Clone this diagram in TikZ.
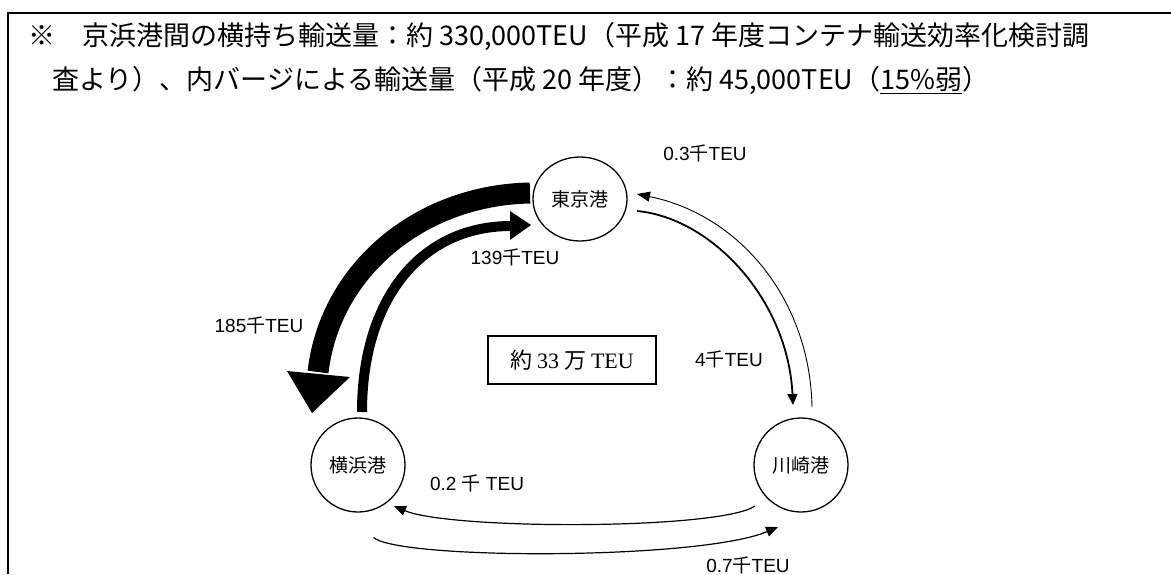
\documentclass[tikz,border=0pt]{standalone}
\usepackage{fontspec}
\setmainfont{Noto Sans CJK JP}
\newfontfamily\jp{Noto Sans CJK JP}
\newfontfamily\arialf{Liberation Sans}
\newfontfamily\seriff{Liberation Serif}
\usetikzlibrary{arrows.meta,shapes.geometric}
\newcommand\sen{{\jp 千}}
\begin{document}
\begin{tikzpicture}[x=1pt,y=-1pt,
  port/.style={draw, line width=1.3pt, circle, minimum size=94pt, inner sep=0pt, font=\jp\fontsize{19}{19}\selectfont},
  tport/.style={draw, line width=1.3pt, ellipse, minimum width=94pt, minimum height=84pt, inner sep=0pt, font=\jp\fontsize{19}{19}\selectfont},
  lbl/.style={inner sep=0pt, font=\arialf\fontsize{19}{19}\selectfont},
  hdr/.style={anchor=west, inner sep=0pt, font=\jp\fontsize{27}{27}\selectfont},
  thin/.style={line width=1.2pt, -{Triangle[length=12pt,width=10pt]}}]
\useasboundingbox (0,0) rectangle (1171,574);
% frame
\draw[line width=2pt] (8,574) -- (8,13) -- (1171,13);
% header
\node[hdr] (h1) at (28,37) {※　京浜港間の横持ち輸送量：約 330,000TEU（平成 17 年度コンテナ輸送効率化検討調};
\node[hdr] (h2) at (52,81) {査より）、内バージによる輸送量（平成 20 年度）：約 45,000TEU（\underline{15\%弱}）};
% ports
\node[tport] (tokyo) at (580,199) {東京港};
\node[port] (yoko) at (358,465) {横浜港};
\node[port] (kawa) at (801,465) {川崎港};
% total box
\node[draw, line width=1.5pt, minimum width=168pt, minimum height=48pt, inner sep=0pt, font=\fontsize{22}{22}\selectfont] (total) at (572,360) {{\jp 約} {\seriff 33} {\jp 万} {\seriff TEU}};
% big arrows
\coordinate (a185s) at (530,193);
\coordinate (a185e) at (318,372);
\draw[line width=21pt] (a185s) .. controls (420,195) and (330,270) .. (a185e);
\fill (287,371) -- (350,377) -- (312,413) -- cycle;
\coordinate (a139s) at (362,412);
\coordinate (a139e) at (511,226);
\draw[line width=10pt] (a139s) .. controls (362,300) and (420,226) .. (a139e);
\fill (510,211) -- (531,225) -- (510,240) -- cycle;
% thin arrows
\coordinate (t4s) at (637,211);
\coordinate (t4e) at (793,405);
\draw[line width=1.8pt, -{Triangle[length=11pt,width=10pt]}] (t4s) .. controls (712,218) and (788,300) .. (t4e);
\coordinate (t03s) at (812,407);
\coordinate (t03e) at (637,194);
\draw[line width=0.9pt, -{Triangle[length=13pt,width=10pt]}] (t03s) .. controls (810,300) and (740,215) .. (t03e);
\coordinate (b02s) at (755,506);
\coordinate (b02e) at (394,506);
\draw[thin] (b02s) .. controls (720,530) and (450,530) .. (b02e);
\coordinate (b07s) at (373.5,537.5);
\coordinate (b07e) at (778,527);
\draw[thin] (b07s) .. controls (400,560) and (700,560) .. (b07e);
% labels
\node[lbl] (l03) at (705,153) {0.3\sen TEU};
\node[lbl] (l139) at (515,257) {139\sen TEU};
\node[lbl] (l185) at (259,325) {185\sen TEU};
\node[lbl] (l4) at (729,359) {4\sen TEU};
\node[lbl] (l02) at (477,483) {0.2 \sen{} TEU};
\node[lbl] (l07) at (748,565) {0.7\sen TEU};
\end{tikzpicture}
\end{document}
